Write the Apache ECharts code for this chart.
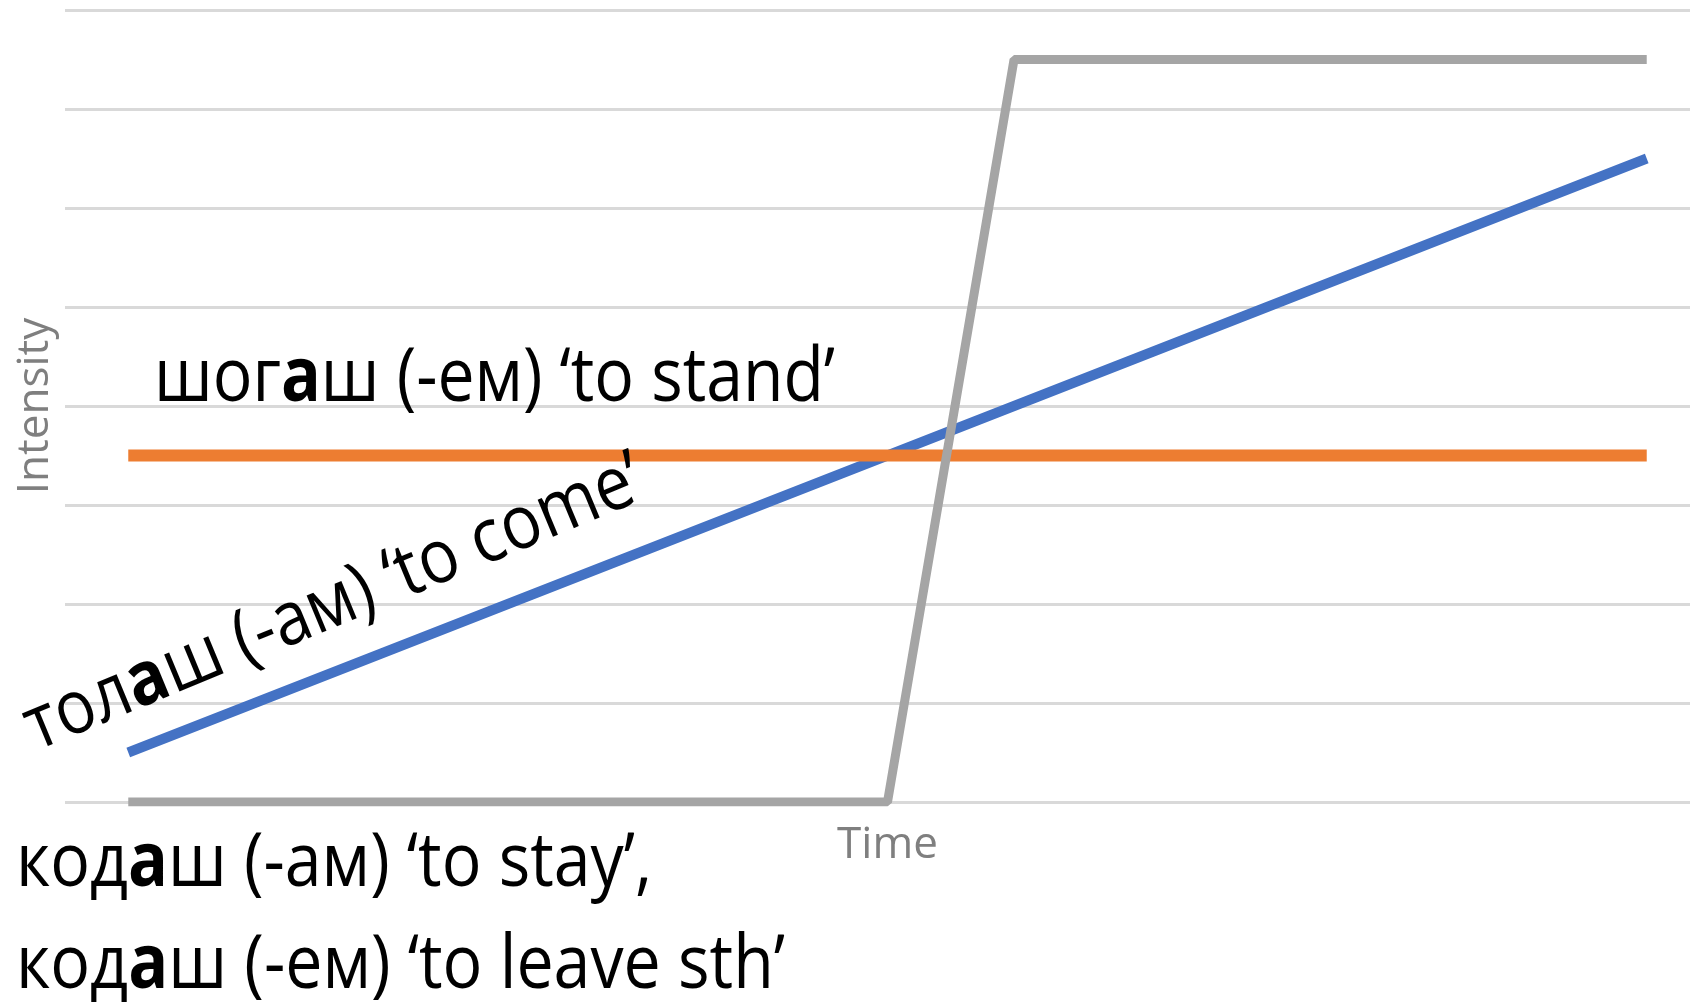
<!DOCTYPE html>
<html><head><meta charset="utf-8">
<script src="https://cdn.jsdelivr.net/npm/echarts@6/dist/echarts.min.js"></script>
<style>html,body{margin:0;padding:0;background:#fff;overflow:hidden}#c{width:1710px;height:1002px}</style>
</head><body><div id="c"></div>
<script>
// ---- data ----
const categories = ['1','2','3','4','5','6','7','8','9','10','11','12','13'];
const tolashValues = [0.5, 1.0, 1.5, 2.0, 2.5, 3.0, 3.5, 4.0, 4.5, 5.0, 5.5, 6.0, 6.5];
const shogashValues = [3.5, 3.5, 3.5, 3.5, 3.5, 3.5, 3.5, 3.5, 3.5, 3.5, 3.5, 3.5, 3.5];
const kodashValues = [0, 0, 0, 0, 0, 0, 0, 7.5, 7.5, 7.5, 7.5, 7.5, 7.5];
const yMin = 0, yMax = 8, yStep = 1;
const xName = 'Time';
const yName = 'Intensity';
const labelShogash = [['шог', false], ['а', true], ['ш (-ем) ‘to stand’', false]];
const labelTolash = [['тол', false], ['а', true], ['ш (-ам) ‘to come’', false]];
const labelKodash1 = [['код', false], ['а', true], ['ш (-ам) ‘to stay’,', false]];
const labelKodash2 = [['код', false], ['а', true], ['ш (-ем) ‘to leave sth’', false]];

// ---- styling ----
const FONT = '"Open Sans", "Noto Sans", sans-serif';
const FS = 75;
const ctx = document.createElement('canvas').getContext('2d');
function measure(parts) {
  let w = 0;
  parts.forEach(p => { ctx.font = (p[1] ? 'bold ' : '') + FS + 'px ' + FONT; w += ctx.measureText(p[0]).width; });
  return w;
}
function richText(parts) {
  return parts.map(p => '{' + (p[1] ? 'b' : 'n') + '|' + p[0] + '}').join('');
}
const rich = {
  n: { fontFamily: FONT, fontSize: FS, fill: '#000' },
  b: { fontFamily: FONT, fontSize: FS, fontWeight: 'bold', fill: '#000' }
};
const MID = 0.285 * FS;
function label(parts, x, baseY, targetW, angleDeg) {
  const a = (angleDeg || 0) * Math.PI / 180;
  const s = targetW / measure(parts);
  return {
    type: 'text', z: 100,
    x: x - MID * Math.sin(a), y: baseY - MID * Math.cos(a),
    rotation: a, scaleX: s, scaleY: 1,
    style: {
      text: richText(parts), rich: rich, fill: '#000',
      fontFamily: FONT, fontSize: FS,
      align: 'left', verticalAlign: 'middle', textAlign: 'left', textVerticalAlign: 'middle'
    }
  };
}

const chart = echarts.init(document.getElementById('c'));
chart.setOption({
  animation: false,
  backgroundColor: '#fff',
  grid: { left: 65, top: 10, right: 0, height: 792, containLabel: false },
  xAxis: {
    type: 'category', data: categories, boundaryGap: true,
    axisLine: { show: false }, axisTick: { show: false }, axisLabel: { show: false },
    name: xName, nameLocation: 'middle', nameGap: 21,
    nameTextStyle: { fontFamily: FONT, fontSize: 44, color: '#7f7f7f' }
  },
  yAxis: {
    type: 'value', min: yMin, max: yMax, interval: yStep,
    axisLine: { show: false }, axisTick: { show: false }, axisLabel: { show: false },
    splitLine: { show: true, lineStyle: { color: '#d9d9d9', width: 3 } },
    name: yName, nameLocation: 'middle', nameGap: 8,
    nameTextStyle: { fontFamily: FONT, fontSize: 44, color: '#7f7f7f' }
  },
  series: [
    { type: 'line', data: tolashValues, symbol: 'none', lineStyle: { color: '#4472c4', width: 10 } },
    { type: 'line', data: shogashValues, symbol: 'none', lineStyle: { color: '#ed7d31', width: 12 } },
    { type: 'line', data: kodashValues, symbol: 'none', lineStyle: { color: '#a5a5a5', width: 9 } }
  ],
  graphic: [
    label(labelShogash, 154, 401, 681, 0),
    label(labelTolash, 36, 751, 664, 22.5),
    label(labelKodash1, 16, 886, 636, 0),
    label(labelKodash2, 16, 988, 769, 0)
  ]
});
</script>
</body></html>
